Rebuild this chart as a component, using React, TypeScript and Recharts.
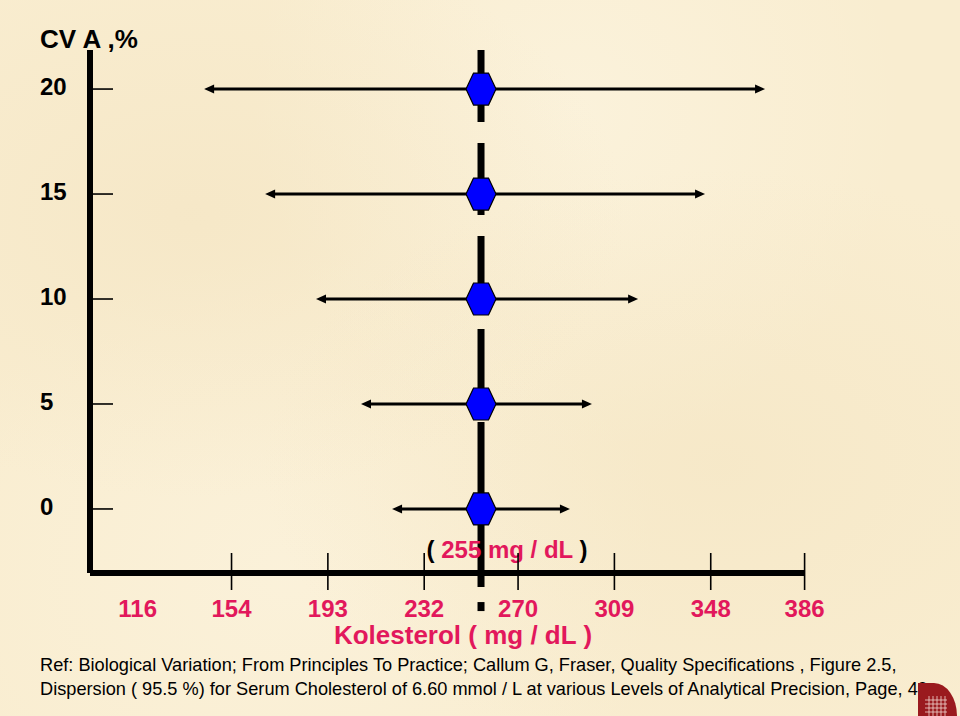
import React from 'react';
import { ComposedChart, XAxis, YAxis, Scatter, ReferenceLine } from 'recharts';

// CV of analytical precision (%)
const cvLevels = [0, 5, 10, 15, 20];
// True cholesterol value (mg/dL)
const centerValue = 255;
// 95.5 % dispersion limits (mg/dL)
const lowerLimits = [219, 206.4, 188.2, 167.6, 142.9];
const upperLimits = [291, 299.9, 318.6, 345.7, 370];
// axis ticks
const xTicks = [116, 154, 193, 232, 270, 309, 348, 386];
const yTicks = [0, 5, 10, 15, 20];
const xDomain = [96.7, 386];
const yDomain = [-3.05, 21.86];
// dashed reference line extent (in CV units)
const refLineTop = 21.86;
const refLineBottom = -3.72;

const CRIMSON = '#E2185C';
const FONT = '"Liberation Sans", Arial, Helvetica, sans-serif';

const hexData = cvLevels.map((cv) => ({ x: centerValue, y: cv }));

const Hexagon = (props: any) => {
  const { cx, cy } = props;
  if (cx == null || cy == null) return null;
  const hw = 15;
  const hh = 16;
  const pts = [
    [cx - hw, cy],
    [cx - hw / 2, cy - hh],
    [cx + hw / 2, cy - hh],
    [cx + hw, cy],
    [cx + hw / 2, cy + hh],
    [cx - hw / 2, cy + hh],
  ]
    .map((p) => p.join(','))
    .join(' ');
  return <polygon points={pts} fill="#0000FF" stroke="#000" strokeWidth={1.2} />;
};

const ArrowShape = (props: any) => {
  const { x1, y1, x2, y2 } = props;
  const h = 10;
  const w = 4.5;
  return (
    <g>
      <line x1={x1 + h - 1} y1={y1} x2={x2 - h + 1} y2={y2} stroke="#000" strokeWidth={3} />
      <polygon points={`${x1},${y1} ${x1 + h},${y1 - w} ${x1 + h},${y1 + w}`} fill="#000" />
      <polygon points={`${x2},${y2} ${x2 - h},${y2 - w} ${x2 - h},${y2 + w}`} fill="#000" />
    </g>
  );
};

const DashedCenter = (props: any) => {
  const { x1, y1, x2, y2 } = props;
  return (
    <g>
      <line x1={x1} y1={y1} x2={x2} y2={y2} stroke="#000" strokeWidth={7} strokeDasharray="72 21" />
      <rect x={x2 - 3.5} y={y2 + 15} width={7} height={9} fill="#000" />
      <text
        x={x1 + 26}
        y={y2 - 29}
        textAnchor="middle"
        fontFamily={FONT}
        fontWeight="bold"
        fontSize={24}
        fill={CRIMSON}
      >
        <tspan fill="#000">( </tspan>
        {centerValue} mg / dL
        <tspan fill="#000"> )</tspan>
      </text>
    </g>
  );
};

const XTick = (props: any) => {
  const { x, y, payload, index } = props;
  return (
    <g>
      {index > 0 && <line x1={x} y1={y - 20} x2={x} y2={y + 17} stroke="#000" strokeWidth={1.6} />}
      <text
        x={x}
        y={y + 44}
        textAnchor="middle"
        fontFamily={FONT}
        fontWeight="bold"
        fontSize={24}
        fill={CRIMSON}
      >
        {payload.value}
      </text>
    </g>
  );
};

const YTick = (props: any) => {
  const { x, y, payload } = props;
  return (
    <g>
      <line x1={x + 3} y1={y} x2={x + 23} y2={y} stroke="#000" strokeWidth={1.6} />
      <text x={x - 50} y={y + 6} textAnchor="start" fontFamily={FONT} fontWeight="bold" fontSize={24} fill="#000">
        {payload.value}
      </text>
    </g>
  );
};

export default function App() {
  return (
    <div
      style={{
        position: 'absolute',
        left: 0,
        top: 0,
        width: 960,
        height: 716,
        overflow: 'hidden',
        backgroundColor: '#F9EDD0',
        backgroundImage:
          'radial-gradient(ellipse at 20% 30%, rgba(240,222,184,0.35), rgba(240,222,184,0) 40%),' +
          'radial-gradient(ellipse at 75% 65%, rgba(241,224,186,0.35), rgba(241,224,186,0) 45%),' +
          'radial-gradient(ellipse at 60% 15%, rgba(252,245,226,0.6), rgba(252,245,226,0) 40%),' +
          'radial-gradient(ellipse at 30% 80%, rgba(252,244,224,0.6), rgba(252,244,224,0) 40%)',
      }}
    >
      <ComposedChart
        width={960}
        height={716}
        margin={{ top: 50, right: 155.4, bottom: 83, left: 0 }}
        style={{ position: 'absolute', left: 0, top: 0 }}
      >
        <XAxis
          type="number"
          dataKey="x"
          domain={xDomain}
          ticks={xTicks}
          allowDataOverflow
          interval={0}
          tickLine={false}
          tickSize={0}
          tickMargin={0}
          tick={<XTick />}
          axisLine={{ stroke: '#000', strokeWidth: 6 }}
          height={60}
        />
        <YAxis
          type="number"
          dataKey="y"
          domain={yDomain}
          ticks={yTicks}
          allowDataOverflow
          interval={0}
          tickLine={false}
          tickSize={0}
          tickMargin={0}
          tick={<YTick />}
          axisLine={{ stroke: '#000', strokeWidth: 6 }}
          width={90}
        />
        <ReferenceLine
          segment={[
            { x: centerValue, y: refLineTop },
            { x: centerValue, y: refLineBottom },
          ]}
          ifOverflow="visible"
          shape={DashedCenter}
        />
        {cvLevels.map((cv, i) => (
          <ReferenceLine
            key={cv}
            segment={[
              { x: lowerLimits[i], y: cv },
              { x: upperLimits[i], y: cv },
            ]}
            ifOverflow="visible"
            shape={ArrowShape}
          />
        ))}
        <Scatter data={hexData} dataKey="y" shape={Hexagon} isAnimationActive={false} />
      </ComposedChart>
      <svg
        width={960}
        height={716}
        style={{ position: 'absolute', left: 0, top: 0, pointerEvents: 'none' }}
      >
        <text x={40} y={48} fontFamily={FONT} fontWeight="bold" fontSize={26} fill="#000">
          CV A ,%
        </text>
        <text
          x={463}
          y={644}
          textAnchor="middle"
          fontFamily={FONT}
          fontWeight="bold"
          fontSize={26}
          fill={CRIMSON}
        >
          Kolesterol ( mg / dL )
        </text>
        <text x={40} y={671} fontFamily={FONT} fontSize={18.2} fill="#000">
          Ref: Biological Variation; From Principles To Practice; Callum G, Fraser, Quality Specifications , Figure 2.5,
        </text>
        <text x={40} y={695} fontFamily={FONT} fontSize={18.2} fill="#000">
          Dispersion ( 95.5 %) for Serum Cholesterol of 6.60 mmol / L at various Levels of Analytical Precision, Page, 49
        </text>
        <g>
          <path d="M918,716 L918,683 L934,683 A23,33 0 0 1 957,716 Z" fill="#9A1A1E" />
          <path
            d="M925,700 h22 M925,704 h22 M925,708 h22 M925,712 h22 M929,696 v20 M933,696 v20 M937,696 v20 M941,696 v20 M945,696 v20"
            stroke="#F3D8D0"
            strokeWidth={0.8}
          />
        </g>
      </svg>
    </div>
  );
}
